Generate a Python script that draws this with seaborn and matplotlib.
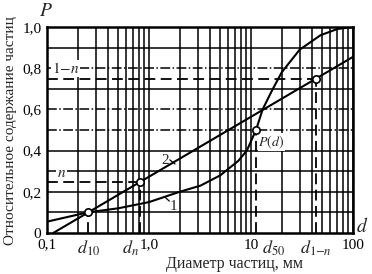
import numpy as np
import pandas as pd
import matplotlib
matplotlib.use("Agg")
import matplotlib.pyplot as plt
import seaborn as sns

# ---- data ----
curve1_d = [0.1, 0.25, 0.5, 1.0, 2.0, 3.2, 5.0, 7.5, 9.1, 11.2, 13, 16, 20, 30, 48, 70, 100]
curve1_p = [0.055, 0.10, 0.12, 0.15, 0.20, 0.23, 0.28, 0.35, 0.40, 0.50, 0.60, 0.69, 0.78,
            0.89, 0.96, 0.99, 1.0]
curve2_d = [0.115, 100]
curve2_p = [0.0, 0.855]
marker_d = [0.254, 0.82, 11.2, 43.4]     # d10, dn, d50, d1-n
marker_p = [0.10, 0.248, 0.50, 0.75]
marker_names = [r"$d_{10}$", r"$d_{n}$", r"$d_{50}$", r"$d_{1\mathrm{-}n}$"]
xtick_vals = [0.1, 1, 10, 100]
xtick_labels = ["0,1", "1,0", "10", "100"]
ytick_vals = [0, 0.2, 0.4, 0.6, 0.8, 1.0]
ytick_labels = ["0", "0,2", "0,4", "0,6", "0,8", "1,0"]
hgrid_vals = [0.1, 0.2, 0.3, 0.4, 0.5, 0.6, 0.7, 0.8, 0.9]
hgrid_styles = ["-", "-", "-", "-", "-.", "-.", "-", "-.", "-"]

sns.set_theme(style="white")
plt.rcParams["font.family"] = ["Liberation Serif", "DejaVu Serif"]
plt.rcParams["mathtext.fontset"] = "stix"

df1 = pd.DataFrame({"d": curve1_d, "P": curve1_p})
df2 = pd.DataFrame({"d": curve2_d, "P": curve2_p})

fig = plt.figure(figsize=(3.72, 2.74), dpi=100)
ax = fig.add_axes([47 / 372, 1 - 233 / 274, 306 / 372, 206 / 274])
ax.set_xscale("log")
ax.set_xlim(0.1, 100)
ax.set_ylim(0, 1)

# grid
minor = [m * 10.0 ** e for e in (-1, 0, 1) for m in range(2, 10)]
ax.set_xticks(xtick_vals)
ax.set_xticklabels(xtick_labels)
ax.set_xticks(minor, minor=True)
ax.set_xticklabels([], minor=True)
ax.grid(True, axis="x", which="both", color="black", lw=1.1)
for v, s in zip(hgrid_vals, hgrid_styles):
    ax.axhline(v, color="black", lw=1.1, ls=s, zorder=1)
ax.set_yticks(ytick_vals)
ax.set_yticklabels(ytick_labels)
ax.tick_params(axis="both", which="both", length=0, labelsize=11, colors="black")
ax.tick_params(axis="x", pad=4)
ax.tick_params(axis="y", pad=4)
for sp in ax.spines.values():
    sp.set_color("black")
    sp.set_linewidth(1.8)

# curves
sns.lineplot(data=df1, x="d", y="P", ax=ax, color="black", lw=1.5, zorder=4)
sns.lineplot(data=df2, x="d", y="P", ax=ax, color="black", lw=1.5, zorder=4)

# dashed reference lines
dash = (0, (6, 3))
ax.plot([0.1, marker_d[3]], [marker_p[3], marker_p[3]], color="black", lw=1.3, ls=dash, zorder=3)
ax.plot([0.1, marker_d[1]], [marker_p[1], marker_p[1]], color="black", lw=1.3, ls=dash, zorder=3)
for dv, pv in zip(marker_d, marker_p):
    ax.plot([dv, dv], [0, pv], color="black", lw=1.3, ls=dash, zorder=3)

# circles
ax.scatter(marker_d, marker_p, s=28, facecolor="white", edgecolor="black", lw=1.2, zorder=6)

# labels on the chart
ax.text(0.112, 0.762, r"$1\mathrm{-}n$", fontsize=11, ha="left", va="bottom", zorder=5,
        bbox=dict(facecolor="white", edgecolor="none", pad=0.5))
ax.text(0.125, 0.255, r"$n$", fontsize=11, ha="left", va="bottom", zorder=5,
        bbox=dict(facecolor="white", edgecolor="none", pad=0.3))
ax.text(1.45, 0.35, "2", fontsize=11, ha="center", va="center", zorder=5)
ax.plot([1.6, 1.8], [0.355, 0.335], color="black", lw=0.9, zorder=5)
ax.text(1.75, 0.13, "1", fontsize=11, ha="center", va="center", zorder=5)
ax.plot([1.58, 1.45], [0.155, 0.172], color="black", lw=0.9, zorder=5)
ax.text(11.8, 0.44, r"$P(d)$", fontsize=10, ha="left", va="center", zorder=5,
        bbox=dict(facecolor="white", edgecolor="none", pad=0.2))

# d labels under the axis
label_x = [0.254, 0.66, 16.5, 43.4]
for lx, name in zip(label_x, marker_names):
    ax.text(lx, -0.025, name, fontsize=13, ha="center", va="top",
            transform=ax.get_xaxis_transform())

ax.set_xlabel("")
ax.set_ylabel("")
fig.text(235 / 372, 1 - 264 / 274, "Диаметр частиц, мм", fontsize=11.5, ha="center", va="center")
fig.text(11 / 372, 1 - 131 / 274, "Относительное содержание частиц", fontsize=11,
         rotation=90, ha="center", va="center")
fig.text(46 / 372, 1 - 11 / 274, r"$P$", fontsize=14, ha="center", va="center")
fig.text(362 / 372, 1 - 226 / 274, r"$d$", fontsize=14, ha="center", va="center")

fig.savefig("out.png", dpi=100)
